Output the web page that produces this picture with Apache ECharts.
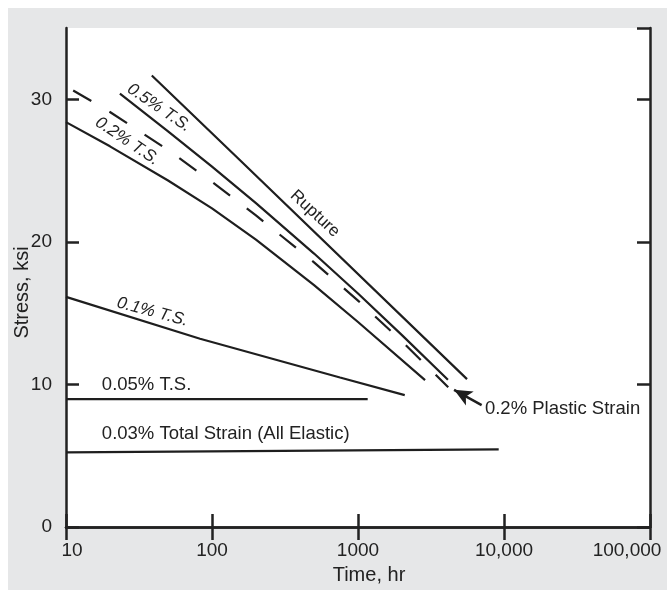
<!DOCTYPE html>
<html><head><meta charset="utf-8">
<script src="https://cdn.jsdelivr.net/npm/echarts@6/dist/echarts.min.js"></script>
<style>html,body{margin:0;padding:0;background:#fff;}#c{position:absolute;left:8px;top:8px;width:659px;height:582px;}</style>
</head><body><div id="c"></div>
<script>
// ---- data ----
const xTickValues = [10, 100, 1000, 10000, 100000];
const xTickLabels = ['10', '100', '1000', '10,000', '100,000'];
const yTickValues = [0, 10, 20, 30];

const rupture      = [[38.7, 31.67], [155.6, 25.72], [5580, 10.37]];
const ts05         = [[23.4, 30.39], [50, 27.75], [100, 25.28], [200, 22.72], [500, 19.18], [1000, 16.38], [2000, 13.46], [4130, 10.33]];
const plastic02    = [[11.2, 30.62], [20, 29.11], [50, 26.44], [100, 24.21], [200, 21.86], [500, 18.56], [1000, 15.88], [2000, 13.02], [4150, 9.8]];
const ts02         = [[10, 28.4], [20, 26.7], [50, 24.3], [100, 22.35], [200, 20.15], [500, 16.97], [1000, 14.38], [2880, 10.3]];
const ts01         = [[10, 16.14], [82.8, 13.2], [753, 10.49], [2090, 9.25]];
const ts005        = [[10, 8.97], [1165, 8.97]];
const total003     = [[10, 5.23], [9200, 5.45]];

const labelRupture = 'Rupture';
const label05      = '0.5% T.S.';
const label02      = '0.2% T.S.';
const label01      = '0.1% T.S.';
const label005     = '0.05% T.S.';
const label003     = '0.03% Total Strain (All Elastic)';
const labelPlastic = '0.2% Plastic Strain';

// ---- chart ----
const FONT = '"Liberation Sans", Arial, Helvetica, sans-serif';
const INK = '#222';
const LINE = '#1e1e1e';

function rotLabel(text, coord, rot, italic) {
  return {
    symbol: 'circle', symbolSize: 0, silent: true,
    label: { show: true, position: 'inside', formatter: '{b}', rotate: rot, align: 'center', verticalAlign: 'middle',
      fontFamily: FONT, fontSize: 17, fontStyle: italic ? 'italic' : 'normal', color: INK },
    data: [{ name: text, coord: coord }]
  };
}
function flatLabel(text, coord) {
  return {
    symbol: 'circle', symbolSize: 0, silent: true,
    label: { show: true, position: 'inside', formatter: '{b}', align: 'left', verticalAlign: 'middle',
      fontFamily: FONT, fontSize: 18.5, color: INK },
    data: [{ name: text, coord: coord }]
  };
}
function line(name, data, opts) {
  return Object.assign({
    name: name, type: 'line', data: data, symbol: 'none', silent: true,
    lineStyle: { color: LINE, width: 2.2 }
  }, opts || {});
}

const chart = echarts.init(document.getElementById('c'), null, { renderer: 'canvas' });
const axisLine = { show: true, lineStyle: { color: INK, width: 2.5 } };
const axisTick = { show: true, inside: true, length: 13, lineStyle: { color: INK, width: 2.5 } };

chart.setOption({
  animation: false,
  backgroundColor: '#e6e7e8',
  grid: { left: 58, top: 20, width: 584, height: 499, show: true, backgroundColor: '#fff', borderWidth: 0, outerBoundsMode: 'none', containLabel: false },
  xAxis: [{
    type: 'log', logBase: 10, min: 10, max: 100000, position: 'bottom',
    axisLine: axisLine, axisTick: axisTick, splitLine: { show: false }, minorTick: { show: false }, minorSplitLine: { show: false },
    axisLabel: {
      margin: 14, fontSize: 19, fontFamily: FONT, color: INK, showMinLabel: true, showMaxLabel: true, hideOverlap: false,
      formatter: function (v) {
        const i = xTickValues.findIndex(t => Math.abs(Math.log10(t) - Math.log10(v)) < 1e-6);
        if (i < 0) return '';
        if (i === 0) return '{first|' + xTickLabels[i] + '}';
        if (i === xTickValues.length - 1) return '{last|' + xTickLabels[i] + '}';
        return xTickLabels[i];
      },
      rich: {
        first: { fontSize: 19, fontFamily: FONT, color: INK, padding: [0, 0, 0, 12] },
        last: { fontSize: 19, fontFamily: FONT, color: INK, padding: [0, 46, 0, 0] }
      }
    },
    name: 'Time, hr', nameLocation: 'middle', nameGap: 38, nameMoveOverlap: false,
    nameTextStyle: { fontSize: 20, fontFamily: FONT, color: INK, padding: [0, 0, 0, 22] }
  }, {
    type: 'log', logBase: 10, min: 10, max: 100000, position: 'top',
    axisLine: axisLine, axisTick: axisTick, axisLabel: { show: false }, splitLine: { show: false }, minorTick: { show: false }
  }],
  yAxis: [{
    type: 'value', min: 0, max: 35, interval: 10, position: 'left',
    axisLine: axisLine, axisTick: axisTick, splitLine: { show: false },
    axisLabel: { margin: 14, fontSize: 19, fontFamily: FONT, color: INK, showMaxLabel: false,
      formatter: function (v) { return yTickValues.indexOf(v) >= 0 ? String(v) : ''; } },
    name: 'Stress, ksi', nameLocation: 'middle', nameGap: 34, nameMoveOverlap: false,
    nameTextStyle: { fontSize: 20, fontFamily: FONT, color: INK, padding: [0, 30, 0, 0] }
  }, {
    type: 'value', min: 0, max: 35, interval: 10, position: 'right',
    axisLine: axisLine, axisTick: axisTick, splitLine: { show: false }, axisLabel: { show: false }
  }],
  series: [
    line('Rupture', rupture, { markPoint: rotLabel(labelRupture, [507, 21.98], -43, false) }),
    line('0.5% T.S.', ts05, { markPoint: rotLabel(label05, [43.4, 29.4], -34, true) }),
    line('0.2% Plastic Strain', plastic02, {
      lineStyle: { color: LINE, width: 2.2, type: [21, 21] },
      markPoint: flatLabel(labelPlastic, [7400, 8.3]),
      markLine: {
        silent: true, symbol: ['none', 'arrow'], label: { show: false },
        lineStyle: { color: LINE, width: 2.5, type: 'solid' },
        data: [[{ coord: [7030, 8.55], symbol: 'none' }, { coord: [4550, 9.62], symbol: 'arrow', symbolSize: [12, 18] }]]
      }
    }),
    line('0.2% T.S.', ts02, { markPoint: rotLabel(label02, [26.3, 27.06], -34, true) }),
    line('0.1% T.S.', ts01, { markPoint: rotLabel(label01, [39.1, 15.09], -15, true) }),
    line('0.05% T.S.', ts005, { markPoint: flatLabel(label005, [17.6, 10.0]) }),
    line('0.03% Total Strain', total003, { markPoint: flatLabel(label003, [17.6, 6.55]) })
  ]
});
</script></body></html>
